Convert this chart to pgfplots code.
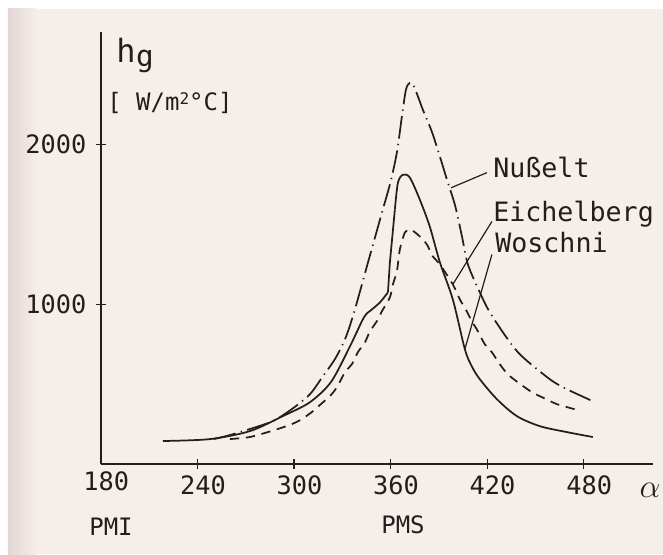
\documentclass[border=0pt]{standalone}
\usepackage{pgfplots}
\pgfplotsset{compat=1.18}
\usepackage{fontspec}
\setmainfont{DejaVu Sans Mono}
\definecolor{paper}{HTML}{F6EEE9}
\definecolor{paperedge}{HTML}{E2D6D3}
\definecolor{ink}{HTML}{221E1E}
\newcommand{\fs}[1]{\fontsize{#1}{#1}\selectfont}

\begin{document}
\begin{tikzpicture}[x=1pt,y=1pt]
% sheet of paper
\fill[white] (-75.75,-67.5) rectangle (421.5,348);
\fill[paper] (-69.75,-67.5) rectangle (421.5,341.25);
\shade[left color=paperedge, right color=paper] (-69.75,-67.5) rectangle (-48,341.25);

\begin{axis}[
  at={(0,0)}, anchor=south west,
  scale only axis, width=414pt, height=324pt,
  xmin=180, xmax=523, ymin=0, ymax=2706,
  axis lines=left,
  axis line style={ink, line width=1.3pt, -},
  tick style={ink, line width=1pt},
  major tick length=7pt, tick align=center,
  xtick={240,300,360,420,480},
  xticklabels={240,300,360,420,480},
  extra x ticks={180},
  extra x tick labels={180},
  extra x tick style={major tick length=0pt},
  ytick={1000,2000},
  yticklabels={1000,2000},
  tick label style={font=\fs{19}, text=ink},
  xticklabel style={xshift=4pt, yshift=-2pt},
  yticklabel style={xshift=-4pt},
  clip=false,
  curve/.style={ink, mark=none, line width=1.3pt, line join=round},
]
% Woschni: smooth rise, sharp jump near TDC, smooth decay
\addplot[curve, smooth, tension=0.5] coordinates {
 (218.5,144) (247.7,156) (272.5,206) (293,300) (309.8,387) (323,515)
 (334.7,737) (343.4,919) (348,965) (353.3,1012) (358.3,1075)
};
\addplot[curve] coordinates {(358.3,1075) (359.5,1262) (362.6,1594)};
\addplot[curve, smooth, tension=0.5] coordinates {
 (362.6,1594) (364.5,1762) (367.6,1812) (371.9,1794) (378.1,1656)
 (384.3,1487) (390.6,1262) (398.6,1031) (406.1,719) (410.5,610)
 (415.4,531) (426,406) (438.4,300) (452.7,237) (469.4,200) (485.6,169)
};
% Eichelberg
\addplot[curve, smooth, tension=0.5, dash pattern=on 7pt off 5pt] coordinates {
 (260.1,156) (272.5,169) (283.7,200) (289.9,219) (298.6,250) (304.8,281)
 (311.7,331) (317.3,381) (322.2,425) (326.6,481) (331.6,575) (335.9,625)
 (339.6,700) (344,762) (347.1,831) (351.4,894) (354.5,956) (359.5,1044)
 (361.4,1125) (363.9,1210) (365.7,1344) (368.8,1450)
 (371.9,1469) (375,1452) (378.1,1425) (382.5,1375) (386.2,1300)
 (390.6,1250) (398.6,1125) (403,1031) (407.3,956) (410.4,894)
 (413.5,844) (418.5,750) (422.9,700) (427.8,625) (432.8,562) (439,512)
 (447.7,450) (453.9,419) (463.2,375) (469.4,357) (476.3,337)
};
% Nusselt
\addplot[curve, smooth, tension=0.5, dash pattern=on 17pt off 4pt on 1pt off 4pt] coordinates {
 (250,156) (260,181) (272.5,219) (286.8,269) (298.6,344) (309.8,437)
 (317.9,550) (325.3,656) (331.6,781) (336.5,925) (340.9,1080) (345,1230)
 (350,1410) (355,1590) (360,1770) (364,1960) (367,2180)
 (369.5,2345) (371.9,2387) (374.5,2365) (380,2219) (385.6,2081)
 (390.6,1925) (395,1780) (400,1620) (404.2,1430)
 (408,1250) (415.4,1075) (421.6,950) (432.8,781) (441.5,675)
 (458.9,531) (469.4,469) (486.8,388)
};
% leader lines to the curve names
\draw[ink, line width=0.9pt] (axis cs:419.8,1825) -- (axis cs:397.5,1730);
\draw[ink, line width=0.9pt] (axis cs:422.9,1519) -- (axis cs:398.6,1125);
\draw[ink, line width=0.9pt] (axis cs:422.9,1312) -- (axis cs:406.1,719);
\end{axis}

\node[ink, anchor=west, inner sep=0pt, font=\fs{20}] at (294,222.75) {Nußelt};
\node[ink, anchor=west, inner sep=0pt, font=\fs{20}] at (294,187.5) {Eichelberg};
\node[ink, anchor=west, inner sep=0pt, font=\fs{20}] at (295.5,165.75) {Woschni};

\node[ink, inner sep=0pt, font=\fs{24}] at (18.75,310) {h};
\node[ink, inner sep=0pt, font=\fs{22}] at (33,302) {g};
\node[ink, anchor=west, inner sep=0pt, font=\fs{18}] at (4.5,270.75)
  {[ W/m\raisebox{0.5ex}{\fs{12}2}°C]};

\node[ink, inner sep=0pt, font=\fs{18}] at (7.5,-47.25) {PMI};
\node[ink, inner sep=0pt, font=\fs{18}] at (226.5,-45.75) {PMS};
\node[ink, inner sep=0pt, font=\fs{26}] at (411.75,-19.5) {$\alpha$};

\pgfresetboundingbox
\useasboundingbox (-75.75,-67.5) rectangle (421.5,348);
\end{tikzpicture}
\end{document}
